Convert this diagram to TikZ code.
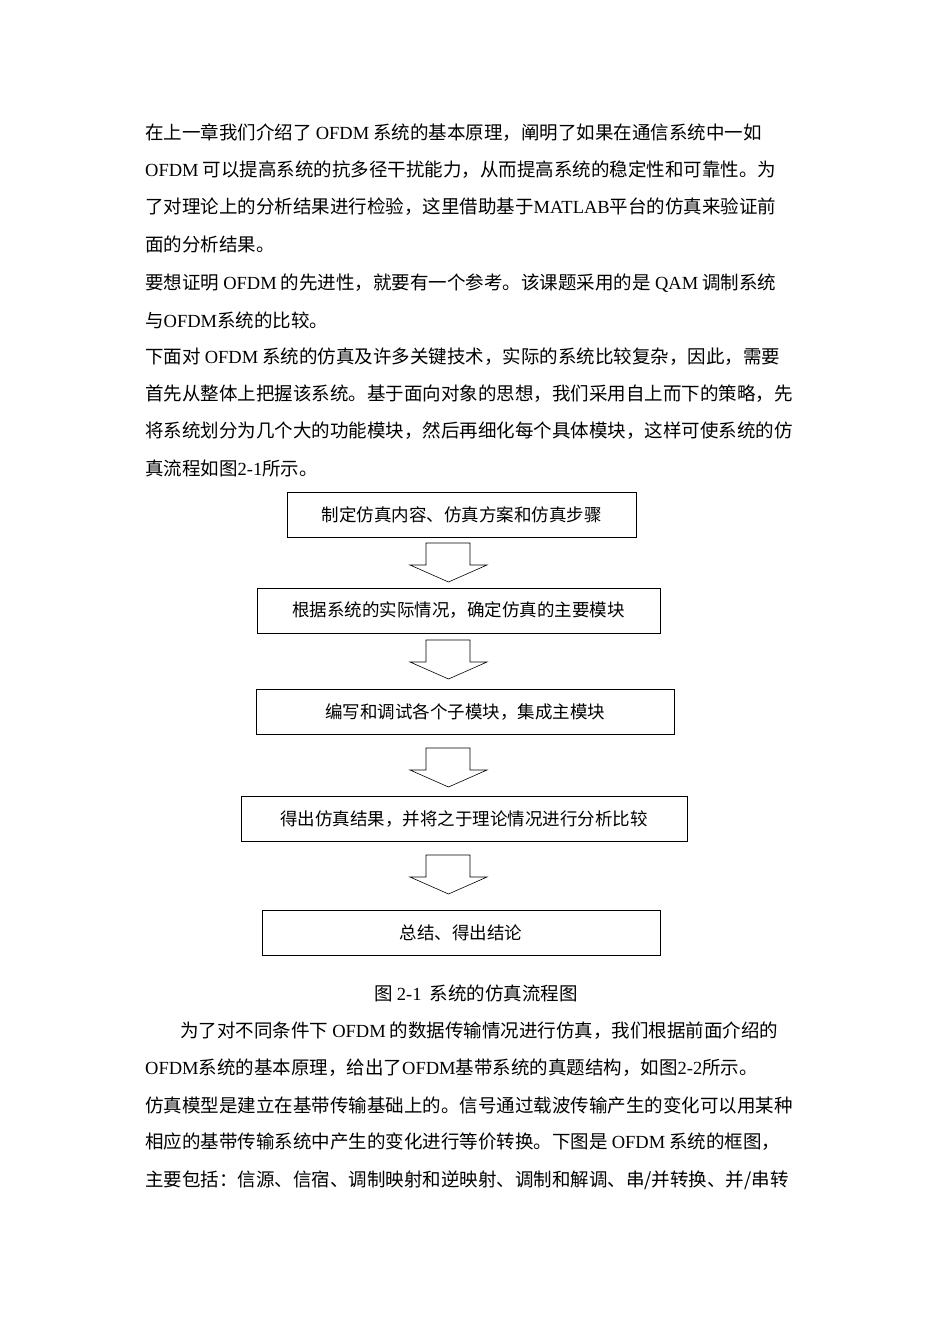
\documentclass[tikz,border=0pt]{standalone}
\usepackage{fontspec}
\setmainfont{Noto Sans CJK SC}
\newfontfamily\lat{Liberation Serif}
\newcommand{\E}[1]{{\lat #1}}
\begin{document}
\begin{tikzpicture}[x=1pt,y=-1pt,
  ln/.style={anchor=west,inner sep=0pt,font=\fontsize{18.5}{20}\selectfont},
  fbox/.style={draw,semithick,minimum height=45pt,font=\fontsize{17.5}{20}\selectfont,inner sep=0pt},
  barrow/.style={draw,semithick,fill=white}]
\useasboundingbox (0,0) rectangle (950,1344);
\foreach \y/\t in {
133/{在上一章我们介绍了 \E{OFDM} 系统的基本原理，阐明了如果在通信系统中一如},
170/{\E{OFDM} 可以提高系统的抗多径干扰能力，从而提高系统的稳定性和可靠性。为},
207/{了对理论上的分析结果进行检验，这里借助基于\E{MATLAB}平台的仿真来验证前},
244/{面的分析结果。},
283/{要想证明 \E{OFDM} 的先进性，就要有一个参考。该课题采用的是 \E{QAM} 调制系统},
320/{与\E{OFDM}系统的比较。},
357/{下面对 \E{OFDM} 系统的仿真及许多关键技术，实际的系统比较复杂，因此，需要},
394/{首先从整体上把握该系统。基于面向对象的思想，我们采用自上而下的策略，先},
431/{将系统划分为几个大的功能模块，然后再细化每个具体模块，这样可使系统的仿},
468/{真流程如图\E{2-1}所示。},
1068/{\E{OFDM}系统的基本原理，给出了\E{OFDM}基带系统的真题结构，如图\E{2-2}所示。},
1105/{仿真模型是建立在基带传输基础上的。信号通过载波传输产生的变化可以用某种},
1142/{相应的基带传输系统中产生的变化进行等价转换。下图是 \E{OFDM} 系统的框图，},
1180/{主要包括：信源、信宿、调制映射和逆映射、调制和解调、串/并转换、并/串转}}
  \node[ln] at (145,\y) {\t};
\node[ln] (p2) at (180,1031) {为了对不同条件下 \E{OFDM} 的数据传输情况进行仿真，我们根据前面介绍的};
\node[fbox,minimum width=349pt] (b1) at (461.5,514.5) {制定仿真内容、仿真方案和仿真步骤};
\node[fbox,minimum width=403pt] (b2) at (458.5,610.5) {根据系统的实际情况，确定仿真的主要模块};
\node[fbox,minimum width=418pt] (b3) at (465,712) {编写和调试各个子模块，集成主模块};
\node[fbox,minimum width=446pt] (b4) at (464,819) {得出仿真结果，并将之于理论情况进行分析比较};
\node[fbox,minimum width=398pt] (b5) at (461,932.5) {总结、得出结论};
\foreach \t in {543,640,748,855}
  \draw[barrow] (426,\t) -- (470,\t) -- (470,\t+22) -- (487,\t+22) -- (448.5,\t+39)
     -- (410,\t+22) -- (426,\t+22) -- cycle;
\node[ln,anchor=center] (cap) at (476,993) {图 \E{2-1}\ \ 系统的仿真流程图};
\end{tikzpicture}
\end{document}
